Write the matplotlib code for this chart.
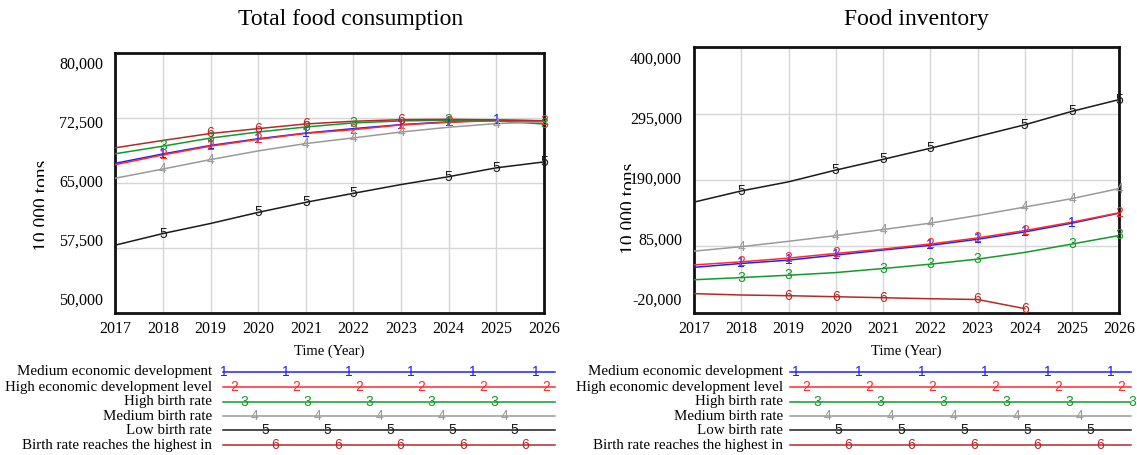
import numpy as np
import matplotlib
matplotlib.use("Agg")
import matplotlib.pyplot as plt
from matplotlib import transforms
from matplotlib.transforms import Bbox, TransformedBbox

# ---------------- data ----------------
years = [2017, 2018, 2019, 2020, 2021, 2022, 2023, 2024, 2025, 2026]
series_names = ["Medium economic development",
                "High economic development level",
                "High birth rate",
                "Medium birth rate",
                "Low birth rate",
                "Birth rate reaches the highest in"]
series_ids = ["1", "2", "3", "4", "5", "6"]
series_colors = ["#1f1fff", "#ff2a2a", "#139a2a", "#9a9a9a", "#1a1a1a", "#b82828"]

# Total food consumption (10,000 tons)
cons_1 = [67220, 68300, 69280, 70050, 70710, 71220, 71680, 72000, 72190, 72110]
cons_2 = [67060, 68190, 69200, 69980, 70670, 71100, 71650, 71950, 72150, 72050]
cons_3 = [68320, 69200, 70130, 70830, 71410, 71880, 72110, 72190, 72110, 71750]
cons_4 = [65500, 66560, 67650, 68650, 69500, 70150, 70830, 71380, 71800, 71990]
cons_5 = [57780, 59120, 60280, 61560, 62720, 63760, 64770, 65680, 66700, 67380]
cons_6 = [69010, 69860, 70660, 71220, 71760, 72070, 72250, 72290, 72230, 72130]

# Food inventory (10,000 tons)
inv_1 = [51800, 57900, 63200, 71200, 79200, 86600, 96200, 107900, 121700, 137600]
inv_2 = [55600, 60500, 66400, 73800, 80700, 88700, 98300, 110000, 123300, 138200]
inv_3 = [32100, 35600, 39300, 43500, 49900, 56800, 64800, 75400, 88700, 102200]
inv_4 = [77400, 84500, 93000, 102000, 111600, 121700, 133900, 147200, 160600, 176500]
inv_5 = [155000, 172700, 187100, 205700, 222700, 240200, 258800, 277400, 298700, 317300]
inv_6 = [10200, 8000, 6900, 5300, 3700, 2100, 900, -13500, np.nan, np.nan]

# years where the numbered markers are drawn on each line
cons_marks = [[2018, 2019, 2020, 2021, 2023, 2024, 2025],
              [2018, 2019, 2020, 2022, 2023, 2024, 2026],
              [2018, 2019, 2021, 2022, 2024, 2026],
              [2018, 2019, 2021, 2022, 2023, 2025],
              [2018, 2020, 2021, 2022, 2024, 2025, 2026],
              [2019, 2020, 2021, 2023]]
inv_marks = [[2018, 2019, 2020, 2022, 2023, 2024, 2025],
             [2018, 2019, 2020, 2022, 2023, 2024, 2026],
             [2018, 2019, 2021, 2022, 2023, 2025, 2026],
             [2018, 2020, 2021, 2022, 2024, 2025, 2026],
             [2018, 2020, 2021, 2022, 2024, 2025, 2026],
             [2019, 2020, 2021, 2023, 2024]]

cons_ticks = [50000, 57500, 65000, 72500, 80000]
inv_ticks = [-20000, 85000, 190000, 295000, 400000]

titles = ["Total food consumption", "Food inventory"]
xlabel = "Time (Year)"
ylabel = "10,000 tons"

# ---------------- style ----------------
SERIF = ["Liberation Serif", "DejaVu Serif"]
SANS = ["Liberation Sans", "DejaVu Sans"]
plt.rcParams['font.family'] = SERIF

W, H = 1137, 455
fig = plt.figure(figsize=(W / 100, H / 100), dpi=100)


def fx(px):
    return px / W


def fy(py):
    return 1 - py / H


def draw_panel(rect, data, marks, ticks, title, title_x, ylab_base_x, ylab_clip_x, ylab_y):
    l, t, r, b = rect
    ax = fig.add_axes([fx(l), fy(b), fx(r - l), (b - t) / H])
    for i, vals in enumerate(data):
        ax.plot(years, vals, color=series_colors[i], lw=1.1, zorder=3 + i * 0.1, clip_on=True)
        for yr in marks[i]:
            v = vals[years.index(yr)]
            if np.isfinite(v):
                ax.text(yr, v, series_ids[i], color=series_colors[i], fontsize=10,
                        family=SANS, ha='center', va='center', zorder=5)
    ax.set_xlim(years[0], years[-1])
    ax.set_ylim(ticks[0], ticks[-1])
    ax.set_xticks(years)
    ax.set_xticklabels([str(y) for y in years], fontsize=11.5)
    ax.set_yticks(ticks)
    ax.set_yticklabels([])
    ax.tick_params(length=0, pad=6)
    ax.grid(True, color="#d6d6d6", lw=1.0)
    ax.set_axisbelow(True)
    for s in ax.spines.values():
        s.set_linewidth(2.0)
        s.set_color("#111111")
    # y tick labels spread slightly inward (Vensim style)
    n = len(ticks)
    inset = 12.0 / (b - t)
    tr = transforms.offset_copy(ax.transAxes, fig=fig, x=-12, y=0, units='dots')
    for k, v in enumerate(ticks):
        pos = inset + (1 - 2 * inset) * k / (n - 1)
        ax.text(0, pos, f"{v:,}", transform=tr, ha='right', va='center', fontsize=11.5)
    # title
    fig.text(fx(title_x), fy(20), title, ha='center', va='center', fontsize=17)
    # x label
    fig.text(fx((l + r) / 2), fy(351), xlabel, ha='center', va='center', fontsize=10.5)
    # clipped y label
    yl = fig.text(fx(ylab_base_x), fy(ylab_y), ylabel, rotation=90, rotation_mode='anchor',
                  ha='center', va='baseline', fontsize=14)
    yl.set_clip_box(TransformedBbox(Bbox([[0, 0], [fx(ylab_clip_x), 1]]), fig.transFigure))
    yl.set_clip_on(True)
    return ax


draw_panel((115.3, 52.5, 544.0, 312.6), [cons_1, cons_2, cons_3, cons_4, cons_5, cons_6],
           cons_marks, cons_ticks, titles[0], 351, 46, 44, 205)
draw_panel((694.0, 47.3, 1119.3, 312.7), [inv_1, inv_2, inv_3, inv_4, inv_5, inv_6],
           inv_marks, inv_ticks, titles[1], 916, 633, 631, 208)


# ---------------- legends ----------------
def draw_legend(label_right, line_l, line_r, first_mark, spacing, row_off, rows_y):
    lax = fig.add_axes([0, 0, 1, 1], facecolor='none')
    lax.set_xlim(0, W)
    lax.set_ylim(H, 0)
    lax.axis('off')
    for i, name in enumerate(series_names):
        y = rows_y[i]
        lax.plot([line_l, line_r], [y, y], color=series_colors[i], lw=1.1)
        lax.text(label_right, y, name, ha='right', va='center', fontsize=10.8)
        x = first_mark + i * row_off
        while x <= line_r + 1:
            lax.text(x, y, series_ids[i], color=series_colors[i], fontsize=10, family=SANS,
                     ha='center', va='center')
            x += spacing


rows = [372, 387, 401.7, 416, 430.3, 445]
draw_legend(212, 223, 555, 223.6, 62.4, 10.4, rows)
draw_legend(783, 790, 1131, 796, 63.0, 10.5, rows)

fig.savefig("out.png", dpi=100)
